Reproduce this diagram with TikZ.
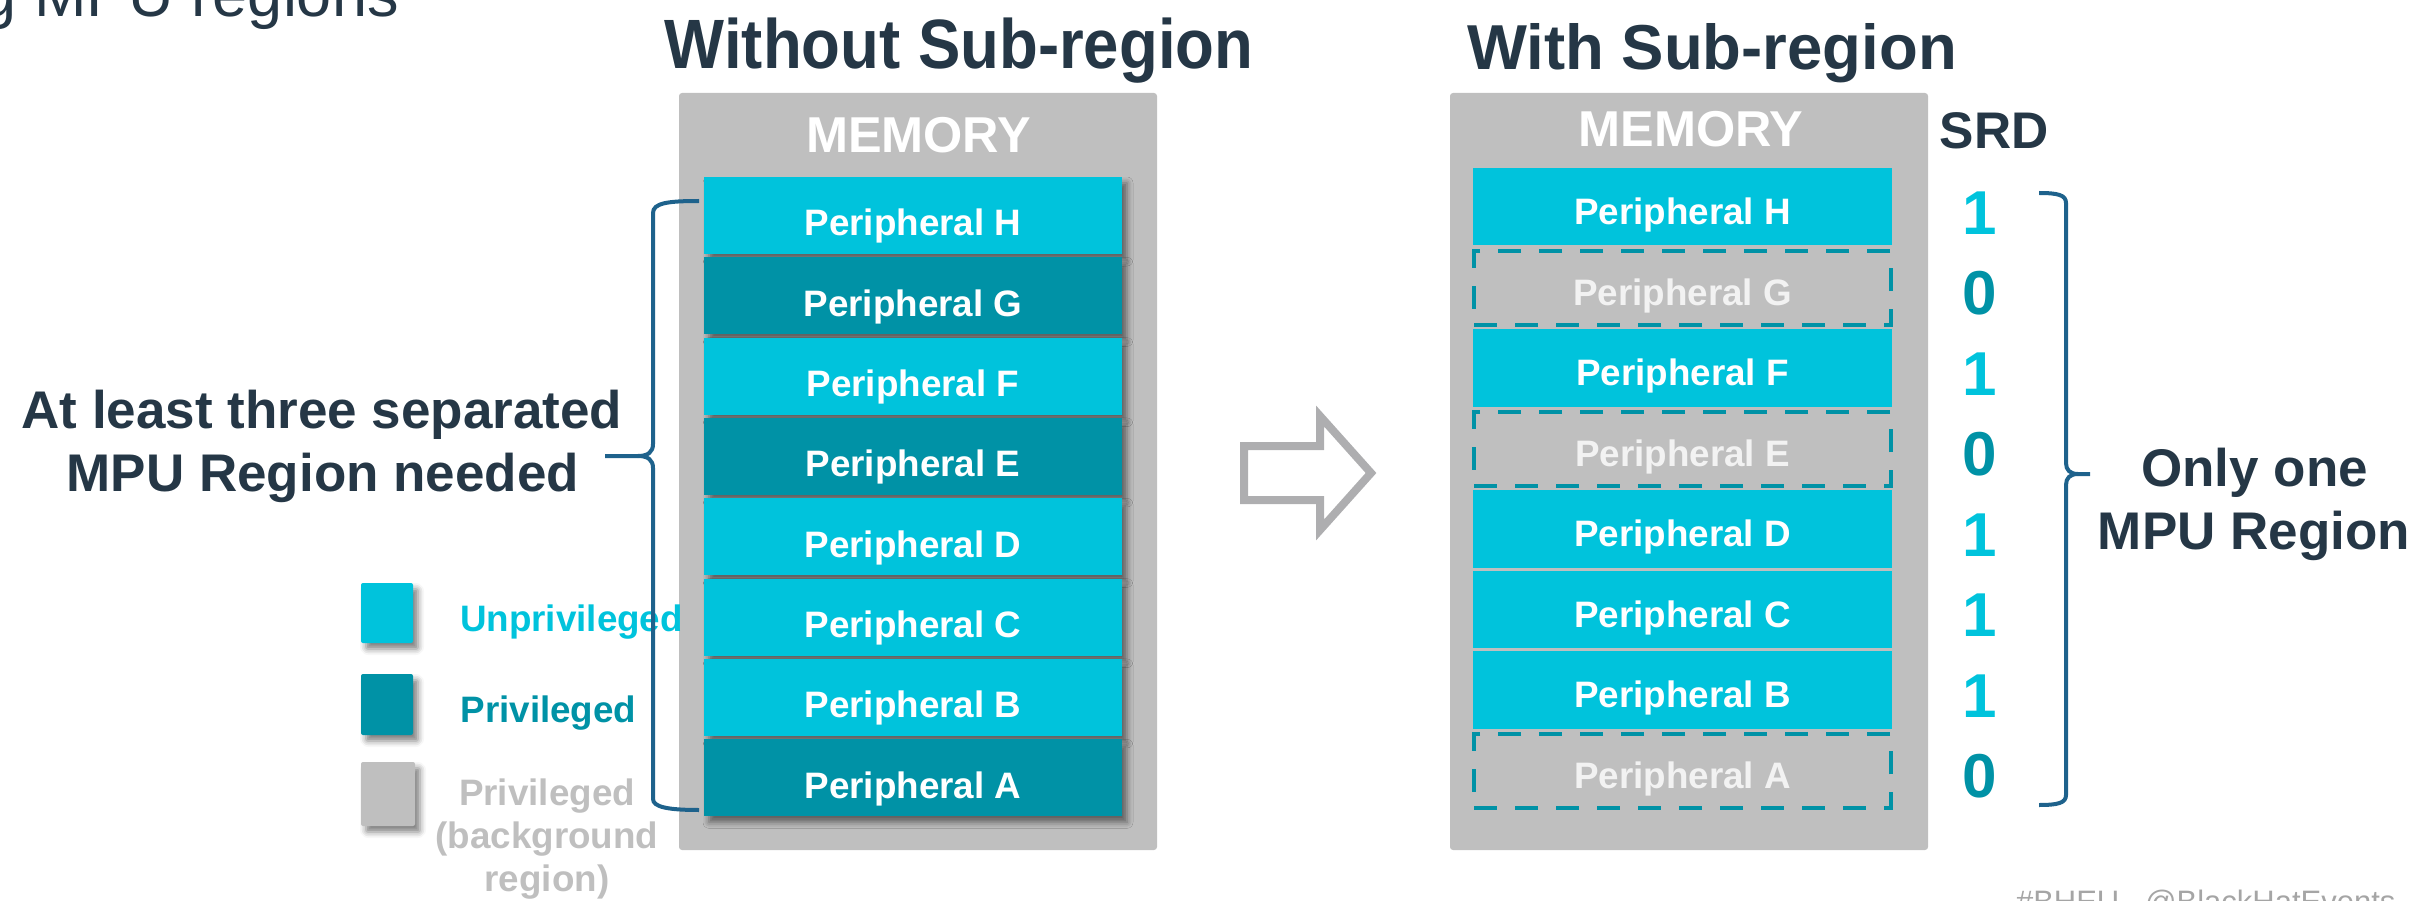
\documentclass[tikz,border=0pt]{standalone}
\usepackage{fontspec}
\setmainfont{Liberation Sans}
\usepackage{graphicx}
\usetikzlibrary{shadows.blur}

\definecolor{cyanbar}{RGB}{0,195,220}
\definecolor{tealbar}{RGB}{0,146,166}
\definecolor{memgray}{RGB}{191,191,191}
\definecolor{navy}{RGB}{37,55,70}
\definecolor{braceblue}{RGB}{30,98,140}
\definecolor{arrowgray}{RGB}{174,174,176}
\definecolor{fadedwhite}{RGB}{242,242,242}
\definecolor{footgray}{RGB}{165,165,165}

\newcommand{\pxfont}[1]{\fontsize{#1pt}{#1pt}\selectfont}

\begin{document}
\begin{tikzpicture}[x=1pt,y=-1pt,
  txt/.style={inner sep=0pt,outer sep=0pt,anchor=base},
  softshadow/.style={blur shadow={shadow xshift=5pt,shadow yshift=-6pt,shadow blur radius=6pt,shadow opacity=50}},
  lbar/.style={minimum width=418pt,minimum height=77pt,inner sep=0pt,outer sep=0pt,softshadow},
  rbar/.style={minimum width=419pt,minimum height=77.5pt,inner sep=0pt,outer sep=0pt},
  dashbox/.style={draw=tealbar,line width=4pt,dash pattern=on 23pt off 18pt,
    minimum width=417pt,minimum height=74pt,inner sep=0pt,outer sep=0pt},
  membox/.style={fill=memgray,rounded corners=3pt,minimum width=478pt,minimum height=757pt,inner sep=0pt},
  legsq/.style={rounded corners=2pt,inner sep=0pt,outer sep=0pt,softshadow},
  brace/.style={draw=braceblue,line width=4pt},
  perfont/.style={font=\bfseries\pxfont{36.8}},
  bigbold/.style={font=\bfseries\pxfont{53},text=navy},
]
\useasboundingbox (0,0) rectangle (2434,901);
\clip (0,0) rectangle (2434,901);

% heading cut by the page edge
\node[txt,anchor=base west,font=\pxfont{63},text=navy] (heading) at (-18,17) {g MPU regions};

% column titles
\node[txt,font=\bfseries\pxfont{63.5},text=navy] (titleL) at (959,68.3) {\scalebox{1}[1.1]{Without Sub-region}};
\node[txt,font=\bfseries\pxfont{63.5},text=navy] (titleR) at (1712,69.3) {With Sub-region};

% memory blocks
\node[membox] (memL) at (918,471.5) {};
\node[membox] (memR) at (1689,471.5) {};
\node[txt,font=\bfseries\pxfont{50.4},text=white] (memLt) at (918.5,152.3) {MEMORY};
\node[txt,font=\bfseries\pxfont{50.4},text=white] (memRt) at (1691,146.7) {MEMORY};

% peripherals without sub-regions
\foreach \i/\p/\c in {0/H/cyanbar,1/G/tealbar,2/F/cyanbar,3/E/tealbar,4/D/cyanbar,5/C/cyanbar,6/B/cyanbar,7/A/tealbar}{
  \pgfmathsetmacro{\cy}{215.5+80.33*\i}
  \pgfmathsetmacro{\ty}{\cy+20.2}
  \node[lbar,fill=\c] (L\p) at (913,\cy) {};
  \node[txt,perfont,text=white] (L\p t) at (913,\ty) {Peripheral \p};
}

% peripherals with sub-regions: enabled ones
\foreach \i/\p in {0/H,2/F,4/D,5/C,6/B}{
  \pgfmathsetmacro{\cy}{206.75+80.5*\i}
  \pgfmathsetmacro{\ty}{\cy+18.2}
  \node[rbar,fill=cyanbar] (R\p) at (1682.5,\cy) {};
  \node[txt,perfont,text=white] (R\p t) at (1682.5,\ty) {Peripheral \p};
}
% disabled sub-regions
\foreach \i/\p in {1/G,3/E,7/A}{
  \pgfmathsetmacro{\cy}{206.75+80.5*\i}
  \pgfmathsetmacro{\ty}{\cy+18.2}
  \node[dashbox] (R\p) at (1682.5,\cy+1) {};
  \node[txt,perfont,text=fadedwhite] (R\p t) at (1682.5,\ty) {Peripheral \p};
}

% SRD bits
\node[txt,font=\bfseries\pxfont{51.5},text=navy] (srd) at (1994,148.3) {SRD};
\foreach \i/\b/\c in {0/1/cyanbar,1/0/tealbar,2/1/cyanbar,3/0/tealbar,4/1/cyanbar,5/1/cyanbar,6/1/cyanbar,7/0/tealbar}{
  \pgfmathsetmacro{\by}{206.75+80.5*\i+27.5}
  \node[txt,font=\bfseries\pxfont{62},text=\c] (bit\i) at (1980,\by) {\b};
}

% transition arrow
\draw[arrowgray,line width=8pt,line join=miter]
  (1244,446) -- (1320,446) -- (1320,416) -- (1371,473) -- (1320,530) -- (1320,500) -- (1244,500) -- cycle;

% legend
\node[legsq,fill=cyanbar,minimum width=52pt,minimum height=60pt] (legU) at (387,613) {};
\node[legsq,fill=tealbar,minimum width=52pt,minimum height=61pt] (legP) at (387,704.5) {};
\node[legsq,fill=memgray,minimum width=54pt,minimum height=64pt] (legB) at (388,794) {};
\node[txt,anchor=base west,perfont,text=cyanbar] (legUt) at (460,631.7) {Unprivileged};
\node[txt,anchor=base west,perfont,text=tealbar] (legPt) at (460.5,722.7) {Privileged};
\node[txt,perfont,text=memgray] (legBt1) at (547,805) {Privileged};
\node[txt,perfont,text=memgray] (legBt2) at (547,848) {(background};
\node[txt,perfont,text=memgray] (legBt3) at (547,891) {region)};

% left brace and caption
\coordinate (lbTop) at (699,201);
\coordinate (lbTip) at (605,456);
\coordinate (lbBot) at (699,810);
\draw[brace] (lbTop) .. controls (668,201) and (653,203) .. (653,213) -- (653,444)
  .. controls (653,452) and (648,456) .. (638,456) -- (lbTip);
\draw[brace] (638,456) .. controls (648,456) and (653,460) .. (653,468) -- (653,799)
  .. controls (653,807) and (668,810) .. (lbBot);
\node[txt,bigbold] (needL1) at (322,428.3) {At least three separated};
\node[txt,bigbold] (needL2) at (323,491.7) {MPU Region needed};

% right brace and caption
\coordinate (rbTop) at (2039,193);
\coordinate (rbTip) at (2090,474);
\coordinate (rbBot) at (2039,805);
\draw[brace] (rbTop) .. controls (2058,193) and (2066,195) .. (2066,203) -- (2066,463)
  .. controls (2066,470) and (2070,474) .. (2078,474) -- (rbTip);
\draw[brace] (2078,474) .. controls (2070,474) and (2066,478) .. (2066,485) -- (2066,795)
  .. controls (2066,803) and (2058,805) .. (rbBot);
\node[txt,bigbold] (oneR1) at (2254.5,486) {Only one};
\node[txt,bigbold] (oneR2) at (2254,549) {MPU Region};

% footer cut by the page edge
\node[txt,anchor=base west,font=\pxfont{31},text=footgray] (footer) at (2016,912) {\#BHEU\ \ \ @BlackHatEvents};
\end{tikzpicture}
\end{document}
